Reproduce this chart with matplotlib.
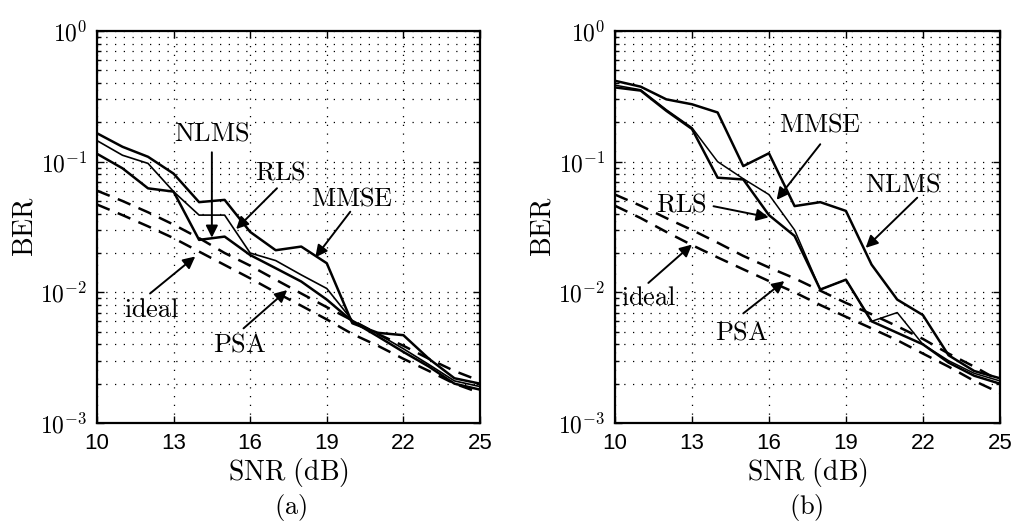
import matplotlib
matplotlib.use("Agg")
import matplotlib.pyplot as plt
from matplotlib.ticker import FixedLocator, FixedFormatter, LogLocator, NullFormatter

plt.rcParams['mathtext.fontset'] = 'cm'

snr = [10, 11, 12, 13, 14, 15, 16, 17, 18, 19, 20, 21, 22, 23, 24, 25]

# panel (a)
mmse_a = [0.165, 0.130, 0.109, 0.081, 0.049, 0.051, 0.029, 0.021, 0.0224, 0.0167, 0.0058, 0.0049, 0.0047, 0.0031, 0.0022, 0.0020]
rls_a = [0.145, 0.112, 0.097, 0.059, 0.039, 0.039, 0.0200, 0.0175, 0.0136, 0.0107, 0.0061, 0.0048, 0.0037, 0.0028, 0.0021, 0.0019]
nlms_a = [0.115, 0.089, 0.0625, 0.059, 0.0252, 0.0267, 0.0193, 0.0153, 0.0121, 0.0088, 0.0060, 0.0046, 0.0035, 0.0027, 0.0020, 0.0018]
ideal_a = [0.060, 0.050, 0.041, 0.033, 0.026, 0.020, 0.016, 0.0125, 0.0098, 0.0077, 0.0061, 0.0048, 0.0039, 0.0031, 0.0025, 0.0021]
psa_a = [0.047, 0.039, 0.032, 0.026, 0.0205, 0.0162, 0.0128, 0.0100, 0.0079, 0.0062, 0.0048, 0.0039, 0.0031, 0.0025, 0.0020, 0.0017]

# panel (b)
nlms_b = [0.416, 0.375, 0.300, 0.275, 0.238, 0.0925, 0.116, 0.0457, 0.049, 0.0420, 0.0163, 0.0088, 0.0067, 0.0033, 0.0025, 0.0022]
rls_b = [0.370, 0.350, 0.245, 0.178, 0.0754, 0.0731, 0.039, 0.027, 0.0105, 0.0125, 0.0060, 0.0049, 0.0040, 0.0029, 0.0023, 0.0020]
mmse_b = [0.385, 0.355, 0.250, 0.182, 0.100, 0.074, 0.056, 0.030, 0.0105, 0.0125, 0.0060, 0.0070, 0.0040, 0.0030, 0.0024, 0.0021]
ideal_b = [0.056, 0.046, 0.037, 0.030, 0.024, 0.019, 0.0155, 0.0128, 0.0103, 0.0083, 0.0068, 0.0055, 0.0044, 0.0034, 0.0027, 0.0021]
psa_b = [0.046, 0.037, 0.029, 0.023, 0.0185, 0.0150, 0.0122, 0.0100, 0.0080, 0.0065, 0.0053, 0.0043, 0.0034, 0.0027, 0.0021, 0.0017]

xticks = [10, 13, 16, 19, 22, 25]
yticks = [1e-3, 1e-2, 1e-1, 1e0]
ytick_labels = [r'$\mathsf{10^{-3}}$', r'$\mathsf{10^{-2}}$', r'$\mathsf{10^{-1}}$', r'$\mathsf{10^{0}}$']

# label text, text pos, arrow tail, arrow tip
labels_a = [
    ('NLMS', (14.5, 0.165), (14.5, 0.118), (14.5, 0.0262)),
    ('RLS', (17.2, 0.082), (17.05, 0.0626), (15.45, 0.0305)),
    ('MMSE', (20.0, 0.0525), (19.92, 0.0414), (18.55, 0.0185)),
    ('ideal', (12.15, 0.0073), (12.08, 0.0098), (13.85, 0.0188)),
    ('PSA', (15.6, 0.0040), (15.74, 0.0053), (17.45, 0.0104)),
]
labels_b = [
    ('MMSE', (18.0, 0.193), (18.0, 0.136), (16.3, 0.051)),
    ('RLS', (12.6, 0.047), (13.84, 0.0456), (15.99, 0.0375)),
    ('NLMS', (21.2, 0.067), (21.78, 0.053), (19.77, 0.0219)),
    ('ideal', (11.3, 0.0090), (11.3, 0.0118), (13.0, 0.0232)),
    ('PSA', (14.95, 0.0049), (15.0, 0.0069), (16.6, 0.0122)),
]

fig = plt.figure(figsize=(10.12, 5.31), dpi=100)
ax1 = fig.add_axes([0.0958, 0.2034, 0.3785, 0.7382])
ax2 = fig.add_axes([0.6077, 0.2034, 0.3803, 0.7382])

dash = (0, (5.5, 3.5))


def setup(ax):
    ax.set_yscale('log')
    ax.set_xlim(10, 25)
    ax.set_ylim(1e-3, 1)
    ax.xaxis.set_major_locator(FixedLocator(xticks))
    ax.yaxis.set_major_locator(FixedLocator(yticks))
    ax.yaxis.set_major_formatter(FixedFormatter(ytick_labels))
    ax.yaxis.set_minor_locator(LogLocator(base=10, subs=range(2, 10)))
    ax.yaxis.set_minor_formatter(NullFormatter())
    ax.tick_params(which='both', direction='in', top=True, right=True, width=1)
    ax.tick_params(axis='x', labelsize=16)
    ax.tick_params(axis='y', labelsize=17)
    ax.tick_params(which='major', length=5, pad=7)
    ax.tick_params(which='minor', length=3)
    for lab in ax.get_xticklabels():
        lab.set_fontfamily('Liberation Sans')
    ax.grid(True, which='major', linestyle=(0, (1, 6)), color='k', lw=0.9)
    ax.grid(True, which='minor', axis='y', linestyle=(0, (1, 6)), color='k', lw=0.9)
    for s in ax.spines.values():
        s.set_linewidth(1.6)
    ax.set_xlabel(r'$\mathrm{SNR\ (dB)}$', fontsize=20, labelpad=2)
    ax.set_ylabel(r'$\mathrm{BER}$', fontsize=20, labelpad=1)


def add_labels(ax, labels):
    for txt, pos, tail, tip in labels:
        ax.text(pos[0], pos[1], r'$\mathrm{%s}$' % txt, fontsize=19, ha='center', va='center', zorder=5)
        ax.annotate('', xy=tip, xytext=tail,
                    arrowprops=dict(arrowstyle='-|>', color='k', lw=1.4, mutation_scale=18,
                                    shrinkA=0, shrinkB=0), zorder=5)


setup(ax1)
ax1.plot(snr, mmse_a, color='k', lw=1.8)
ax1.plot(snr, rls_a, color='k', lw=1.2)
ax1.plot(snr, nlms_a, color='k', lw=1.8)
ax1.plot(snr, ideal_a, color='k', lw=1.8, linestyle=dash)
ax1.plot(snr, psa_a, color='k', lw=1.8, linestyle=dash)
add_labels(ax1, labels_a)

setup(ax2)
ax2.plot(snr, nlms_b, color='k', lw=1.8)
ax2.plot(snr, rls_b, color='k', lw=1.8)
ax2.plot(snr, mmse_b, color='k', lw=1.1)
ax2.plot(snr, ideal_b, color='k', lw=1.8, linestyle=dash)
ax2.plot(snr, psa_b, color='k', lw=1.8, linestyle=dash)
add_labels(ax2, labels_b)

fig.text(0.287, 0.045, r'$\mathrm{(a)}$', fontsize=19, ha='center', va='center')
fig.text(0.797, 0.045, r'$\mathrm{(b)}$', fontsize=19, ha='center', va='center')

fig.savefig('out.png', dpi=100)
